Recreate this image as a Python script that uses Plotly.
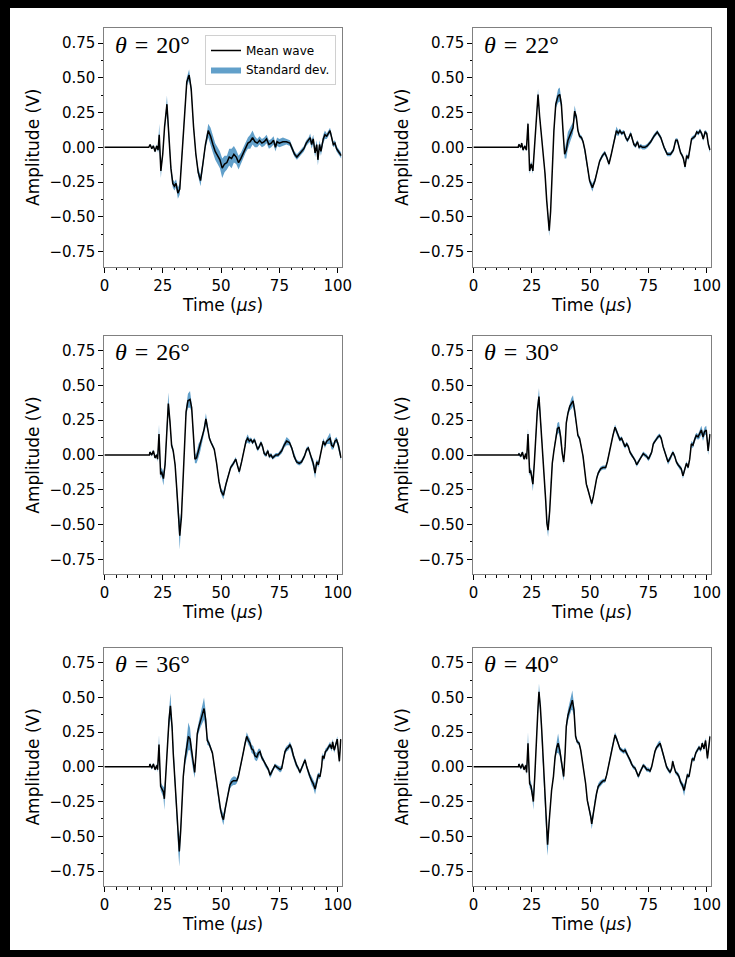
import plotly.graph_objects as go

# ---------------- data ----------------
ANGLES = [20, 22, 26, 30, 36, 40]

TIME_20 = [0, 19.0, 19.6, 20.3, 21.0, 21.7, 22.4, 23.0, 23.5, 24.2, 25.0, 25.8, 26.8, 27.6, 28.5, 29.3, 30.0, 30.7, 31.5, 32.3,
           33.3, 34.3, 35.3, 36.3, 37.2, 38.2, 39.2, 40.2, 41.2, 42.2, 43.3, 44.5, 45.5, 46.5, 47.5, 48.5, 49.5, 50.5, 51.5, 52.5,
           53.5, 54.5, 55.5, 56.5, 57.5, 58.5, 59.5, 60.5, 61.5, 62.5, 63.5, 64.5, 65.5, 66.5, 67.5, 68.5, 69.5, 70.5, 71.5, 72.5,
           73.3, 74.0, 75.0, 76.5, 78.0, 79.5, 80.5, 81.5, 82.5, 83.5, 84.5, 85.5, 86.5, 87.5, 88.2, 88.8, 89.5, 90.3, 91.0, 91.5,
           92.2, 92.8, 93.8, 94.5, 95.3, 96.0, 96.7, 97.4, 98.1, 98.8, 99.5, 100.3, 101.5]
MEAN_20 = [0, 0, 0.02, -0.01, 0.01, -0.03, 0.01, -0.02, 0.09, -0.17,
           -0.05, 0.15, 0.31, 0.12, -0.15, -0.26, -0.28, -0.26, -0.33, -0.30,
           -0.05, 0.25, 0.47, 0.52, 0.42, 0.15, -0.05, -0.18, -0.24, -0.12,
           0.02, 0.12, 0.08, 0.02, -0.03, -0.06, -0.09, -0.15, -0.12, -0.11,
           -0.07, -0.08, -0.05, -0.07, -0.11, -0.08, -0.04, 0.0, 0.03, 0.04,
           0.07, 0.04, 0.03, 0.05, 0.03, 0.04, 0.06, 0.02, 0.03, 0.05,
           0.0, 0.04, 0.03, 0.04, 0.04, 0.03, -0.01, -0.05, -0.07, -0.05,
           -0.03, -0.01, 0.03, 0.05, 0.07, 0.02, 0.06, -0.04, 0.02, -0.09,
           0.02, -0.03, 0.06, 0.09, 0.08, 0.10, 0.12, 0.07, 0.02, 0.03,
           -0.01, -0.03, -0.06]
STD_20 = [0, 0, 0.005, 0.005, 0.01, 0.01, 0.01, 0.02, 0.08, 0.05,
          0.02, 0.03, 0.06, 0.03, 0.03, 0.03, 0.03, 0.03, 0.04, 0.04,
          0.03, 0.03, 0.03, 0.04, 0.03, 0.02, 0.02, 0.03, 0.04, 0.03,
          0.03, 0.05, 0.06, 0.06, 0.06, 0.06, 0.06, 0.07, 0.06, 0.05,
          0.06, 0.07, 0.06, 0.05, 0.05, 0.04, 0.04, 0.04, 0.04, 0.05,
          0.05, 0.04, 0.03, 0.03, 0.03, 0.03, 0.03, 0.03, 0.03, 0.03,
          0.03, 0.03, 0.03, 0.03, 0.02, 0.02, 0.02, 0.02, 0.02, 0.02,
          0.02, 0.02, 0.02, 0.02, 0.03, 0.03, 0.03, 0.03, 0.03, 0.04,
          0.03, 0.03, 0.03, 0.03, 0.02, 0.02, 0.02, 0.02, 0.02, 0.02,
          0.02, 0.02, 0.02]

TIME_22 = [0, 19.2, 19.5, 20.3, 20.7, 21.3, 22.0, 22.7, 23.4, 24.1, 24.8, 25.5, 26.1, 27.0, 27.7, 28.4, 29.1, 29.8, 30.7, 31.4,
           32.1, 32.5, 33.1, 33.8, 34.5, 35.3, 36.3, 37.0, 37.7, 38.4, 39.1, 39.8, 40.5, 41.7, 42.7, 43.4, 44.1, 44.8, 45.5, 46.3,
           47.0, 47.8, 48.8, 49.8, 51.0, 52.1, 53.1, 54.1, 55.3, 56.3, 57.1, 58.1, 59.1, 60.3, 61.3, 62.1, 62.8, 63.5, 64.5, 65.3,
           66.0, 66.7, 67.4, 68.1, 68.8, 69.5, 70.3, 71.0, 71.7, 72.4, 73.5, 74.5, 76.0, 77.4, 78.8, 80.3, 81.7, 83.1, 84.5, 85.7,
           86.7, 87.4, 88.1, 88.8, 89.5, 90.0, 90.7, 91.4, 92.1, 92.8, 93.5, 94.3, 95.0, 95.7, 96.4, 97.1, 97.8, 98.5, 99.3, 100.0,
           100.7, 101.4]
MEAN_22 = [0, 0, 0.02, 0.0, 0.03, -0.02, 0.01, -0.02, 0.17, -0.17,
           -0.12, -0.17, -0.02, 0.26, 0.38, 0.22, 0.10, 0.0, -0.19, -0.38,
           -0.53, -0.60, -0.46, -0.12, 0.12, 0.31, 0.37, 0.38, 0.31, 0.12,
           -0.05, -0.02, 0.05, 0.10, 0.14, 0.26, 0.22, 0.12, 0.08, 0.07,
           0.04, -0.02, -0.14, -0.24, -0.29, -0.24, -0.17, -0.10, -0.06, -0.04,
           -0.07, -0.12, -0.05, 0.05, 0.12, 0.10, 0.12, 0.10, 0.11, 0.07,
           0.05, 0.07, 0.10, 0.06, 0.02, 0.01, 0.04, 0.0, 0.01, 0.0,
           0.0, 0.01, 0.04, 0.08, 0.11, 0.07, 0.0, -0.05, -0.05, -0.02,
           0.05, 0.05, 0.0, -0.04, -0.06, -0.08, -0.14, -0.06, -0.08, -0.02,
           0.06, 0.07, 0.08, 0.11, 0.10, 0.12, 0.10, 0.06, 0.11, 0.10,
           0.02, -0.02]
STD_22 = [0, 0, 0.01, 0.01, 0.01, 0.01, 0.01, 0.01, 0.02, 0.02,
          0.02, 0.02, 0.015, 0.03, 0.04, 0.02, 0.015, 0.015, 0.015, 0.02,
          0.03, 0.04, 0.02, 0.015, 0.015, 0.03, 0.05, 0.05, 0.03, 0.02,
          0.03, 0.06, 0.06, 0.05, 0.04, 0.04, 0.02, 0.015, 0.015, 0.015,
          0.015, 0.015, 0.015, 0.02, 0.03, 0.02, 0.015, 0.015, 0.015, 0.015,
          0.015, 0.015, 0.015, 0.02, 0.03, 0.02, 0.015, 0.015, 0.015, 0.015,
          0.015, 0.015, 0.015, 0.015, 0.015, 0.015, 0.015, 0.015, 0.015, 0.015,
          0.015, 0.015, 0.015, 0.015, 0.015, 0.015, 0.015, 0.015, 0.015, 0.015,
          0.015, 0.015, 0.015, 0.015, 0.015, 0.015, 0.02, 0.015, 0.015, 0.015,
          0.015, 0.015, 0.015, 0.015, 0.015, 0.015, 0.015, 0.015, 0.015, 0.015,
          0.015, 0.02]

TIME_26 = [0, 19.3, 19.5, 20.3, 21.0, 21.7, 22.4, 22.8, 23.4, 24.1, 24.5, 25.3, 26.0, 26.7, 27.4, 28.1, 28.8, 29.5, 30.3, 31.0,
           31.7, 32.3, 33.0, 33.6, 34.3, 35.0, 35.8, 36.7, 37.4, 38.1, 38.8, 39.5, 40.3, 41.0, 42.0, 42.8, 43.5, 44.3, 45.0, 45.7,
           46.4, 47.1, 48.1, 49.1, 50.0, 51.0, 52.1, 53.1, 54.1, 55.3, 56.3, 57.1, 57.8, 58.8, 59.8, 60.7, 61.4, 62.1, 62.8, 63.5,
           64.3, 65.0, 65.7, 66.4, 67.1, 67.8, 68.5, 69.3, 70.0, 70.7, 71.4, 72.1, 72.8, 73.5, 74.5, 76.0, 77.0, 78.1, 79.3, 80.3,
           81.3, 82.4, 83.5, 84.5, 85.7, 86.7, 87.4, 88.1, 88.8, 89.5, 90.3, 91.0, 91.7, 92.4, 93.1, 93.8, 94.5, 95.3, 96.0, 96.7,
           97.4, 98.1, 98.8, 99.5, 100.3, 101.0, 101.4]
MEAN_26 = [0, 0, 0.02, 0.0, 0.03, -0.02, 0.0, -0.03, 0.15, -0.14,
           -0.12, -0.17, -0.07, 0.17, 0.37, 0.24, 0.07, 0.03, -0.07, -0.24,
           -0.45, -0.58, -0.45, -0.21, 0.10, 0.31, 0.39, 0.40, 0.34, 0.15,
           -0.03, -0.02, 0.03, 0.06, 0.12, 0.19, 0.26, 0.19, 0.12, 0.09,
           0.07, 0.04, -0.06, -0.19, -0.26, -0.29, -0.21, -0.14, -0.09, -0.06,
           -0.03, -0.08, -0.12, -0.05, 0.04, 0.10, 0.12, 0.10, 0.11, 0.09,
           0.11, 0.07, 0.04, 0.06, 0.09, 0.06, 0.01, 0.0, 0.03, -0.01,
           0.0, -0.02, -0.01, 0.0, 0.0, 0.03, 0.07, 0.10, 0.09, 0.05,
           -0.01, -0.05, -0.06, -0.05, -0.01, 0.04, 0.05, 0.01, -0.03, -0.06,
           -0.13, -0.05, -0.07, -0.02, 0.05, 0.10, 0.07, 0.10, 0.11, 0.12,
           0.07, 0.06, 0.10, 0.11, 0.07, 0.01, -0.02]
STD_26 = [0, 0, 0.01, 0.01, 0.01, 0.01, 0.01, 0.02, 0.07, 0.03,
          0.03, 0.05, 0.03, 0.04, 0.08, 0.03, 0.02, 0.02, 0.02, 0.02,
          0.05, 0.10, 0.05, 0.02, 0.02, 0.03, 0.05, 0.06, 0.03, 0.02,
          0.03, 0.04, 0.05, 0.04, 0.03, 0.03, 0.04, 0.02, 0.015, 0.015,
          0.015, 0.015, 0.015, 0.02, 0.02, 0.03, 0.02, 0.015, 0.015, 0.015,
          0.015, 0.015, 0.02, 0.015, 0.015, 0.02, 0.03, 0.02, 0.015, 0.015,
          0.015, 0.015, 0.015, 0.015, 0.015, 0.015, 0.015, 0.015, 0.015, 0.015,
          0.015, 0.015, 0.015, 0.015, 0.015, 0.02, 0.02, 0.03, 0.02, 0.015,
          0.015, 0.015, 0.015, 0.015, 0.015, 0.015, 0.015, 0.015, 0.02, 0.03,
          0.04, 0.02, 0.02, 0.015, 0.015, 0.02, 0.02, 0.02, 0.03, 0.04,
          0.03, 0.02, 0.02, 0.02, 0.02, 0.02, 0.02]

TIME_30 = [0, 19.3, 19.5, 20.3, 21.0, 21.7, 22.4, 22.8, 23.4, 24.1, 24.5, 25.0, 25.5, 26.1, 26.7, 27.4, 28.1, 28.8, 29.5, 30.3,
           31.0, 31.5, 32.0, 32.7, 33.3, 33.8, 34.5, 35.3, 36.0, 36.7, 37.4, 38.1, 38.7, 39.3, 39.8, 40.5, 41.3, 42.0, 42.7, 43.4,
           44.1, 44.8, 45.5, 46.3, 47.0, 47.7, 48.4, 49.1, 50.0, 50.7, 51.4, 52.1, 52.8, 53.5, 54.5, 55.5, 56.7, 57.4, 58.1, 58.8,
           59.8, 60.7, 61.4, 62.1, 62.8, 63.5, 64.3, 65.0, 65.7, 66.4, 67.1, 67.8, 68.5, 69.3, 70.0, 70.7, 71.4, 72.1, 72.8, 73.5,
           74.3, 75.0, 75.7, 76.4, 77.1, 78.1, 79.1, 79.8, 80.5, 81.3, 82.0, 82.7, 83.4, 84.1, 84.8, 85.5, 86.3, 87.0, 87.7, 88.4,
           89.1, 89.8, 90.5, 91.3, 92.0, 92.7, 93.4, 94.1, 94.8, 95.5, 96.3, 97.0, 97.7, 98.4, 99.1, 99.8, 100.6, 101.4]
MEAN_30 = [0, 0, 0.01, -0.01, 0.02, -0.03, 0.01, -0.03, 0.15, -0.13,
           -0.11, -0.16, -0.21, -0.06, 0.13, 0.32, 0.42, 0.25, 0.08, -0.09,
           -0.33, -0.49, -0.54, -0.40, -0.16, -0.06, 0.03, 0.13, 0.19, 0.20,
           0.13, 0.01, -0.05, 0.06, 0.23, 0.30, 0.35, 0.37, 0.39, 0.32,
           0.23, 0.14, 0.12, 0.06, -0.01, -0.11, -0.21, -0.25, -0.30, -0.35,
           -0.30, -0.23, -0.17, -0.13, -0.10, -0.09, -0.09, -0.05, 0.01, 0.08,
           0.14, 0.20, 0.17, 0.13, 0.11, 0.12, 0.08, 0.06, 0.08, 0.06,
           0.02, 0.0, -0.01, -0.04, -0.07, -0.05, -0.03, 0.0, 0.01, 0.0,
           -0.01, -0.03, -0.01, 0.02, 0.08, 0.11, 0.13, 0.14, 0.12, 0.06,
           0.02, -0.01, -0.05, -0.03, -0.01, 0.02, -0.01, -0.05, -0.07, -0.09,
           -0.10, -0.15, -0.11, -0.06, -0.09, -0.03, 0.08, 0.07, 0.11, 0.14,
           0.13, 0.15, 0.18, 0.13, 0.17, 0.18, 0.03, 0.15]
STD_30 = [0, 0, 0.01, 0.01, 0.01, 0.01, 0.01, 0.01, 0.04, 0.02,
          0.02, 0.03, 0.05, 0.02, 0.03, 0.04, 0.06, 0.03, 0.02, 0.02,
          0.02, 0.03, 0.05, 0.03, 0.02, 0.015, 0.015, 0.02, 0.04, 0.04,
          0.03, 0.02, 0.02, 0.02, 0.02, 0.02, 0.03, 0.04, 0.04, 0.03,
          0.02, 0.015, 0.015, 0.015, 0.015, 0.015, 0.015, 0.015, 0.015, 0.02,
          0.015, 0.015, 0.015, 0.015, 0.015, 0.015, 0.015, 0.015, 0.015, 0.015,
          0.015, 0.02, 0.015, 0.015, 0.015, 0.015, 0.015, 0.015, 0.015, 0.015,
          0.015, 0.015, 0.015, 0.015, 0.015, 0.015, 0.015, 0.015, 0.015, 0.015,
          0.015, 0.015, 0.015, 0.015, 0.015, 0.015, 0.015, 0.015, 0.015, 0.015,
          0.015, 0.015, 0.02, 0.015, 0.015, 0.015, 0.015, 0.015, 0.015, 0.015,
          0.015, 0.02, 0.02, 0.015, 0.015, 0.015, 0.02, 0.02, 0.02, 0.02,
          0.02, 0.03, 0.03, 0.03, 0.03, 0.03, 0.03, 0.03]

TIME_36 = [0, 19.3, 19.5, 20.3, 21.0, 21.7, 22.4, 22.8, 23.4, 24.1, 24.7, 25.3, 25.7, 26.3, 27.0, 27.7, 28.3, 29.0, 29.5, 30.3,
           31.0, 31.7, 32.1, 32.7, 33.3, 33.8, 34.5, 35.3, 36.0, 36.7, 37.4, 38.1, 38.7, 39.3, 39.8, 40.5, 41.3, 42.0, 42.7, 43.4,
           44.1, 44.8, 45.5, 46.3, 47.0, 47.7, 48.4, 49.1, 49.8, 50.5, 51.0, 51.7, 52.4, 53.1, 53.8, 54.5, 55.3, 56.0, 56.7, 57.4,
           58.1, 58.8, 59.5, 60.3, 61.0, 61.7, 62.4, 63.1, 63.8, 64.5, 65.3, 66.0, 66.7, 67.4, 68.1, 68.8, 69.5, 70.3, 71.0, 71.7,
           72.4, 73.1, 73.8, 74.5, 75.3, 76.0, 76.7, 77.4, 78.1, 78.8, 79.5, 80.3, 81.0, 81.7, 82.4, 83.1, 83.8, 84.5, 85.3, 86.0,
           86.7, 87.4, 88.1, 88.8, 89.5, 90.3, 91.0, 91.7, 92.4, 93.1, 93.5, 94.1, 94.7, 95.3, 96.0, 96.7, 97.4, 97.8, 98.5, 99.3,
           99.8, 100.3, 100.7, 101.3]
MEAN_36 = [0, 0, 0.02, -0.01, 0.02, -0.02, 0.01, -0.02, 0.16, -0.14,
           -0.16, -0.18, -0.23, -0.07, 0.19, 0.34, 0.44, 0.29, 0.10, -0.12,
           -0.36, -0.55, -0.61, -0.46, -0.24, -0.07, 0.05, 0.14, 0.22, 0.20,
           0.10, 0.0, -0.04, 0.10, 0.24, 0.29, 0.34, 0.38, 0.42, 0.34,
           0.19, 0.17, 0.14, 0.10, 0.02, -0.07, -0.17, -0.26, -0.31, -0.36,
           -0.38, -0.31, -0.24, -0.18, -0.13, -0.11, -0.10, -0.10, -0.10, -0.07,
           -0.02, 0.04, 0.10, 0.17, 0.22, 0.19, 0.17, 0.13, 0.12, 0.08,
           0.07, 0.10, 0.11, 0.07, 0.05, 0.02, 0.0, -0.02, -0.06, -0.04,
           -0.01, 0.01, 0.0, -0.01, -0.02, -0.01, 0.06, 0.11, 0.13, 0.14,
           0.16, 0.13, 0.08, 0.04, 0.01, -0.01, -0.04, -0.01, 0.02, 0.05,
           0.0, -0.04, -0.07, -0.10, -0.12, -0.16, -0.10, -0.06, -0.07, 0.0,
           0.08, 0.06, 0.11, 0.12, 0.14, 0.16, 0.13, 0.18, 0.12, 0.17,
           0.20, 0.10, 0.04, 0.20]
STD_36 = [0, 0, 0.01, 0.01, 0.01, 0.01, 0.01, 0.02, 0.07, 0.03,
          0.03, 0.04, 0.08, 0.03, 0.04, 0.06, 0.09, 0.04, 0.03, 0.03,
          0.04, 0.07, 0.11, 0.06, 0.03, 0.03, 0.04, 0.07, 0.10, 0.08,
          0.05, 0.03, 0.04, 0.03, 0.03, 0.04, 0.05, 0.06, 0.08, 0.06,
          0.03, 0.02, 0.02, 0.015, 0.015, 0.015, 0.015, 0.015, 0.02, 0.03,
          0.04, 0.03, 0.02, 0.02, 0.03, 0.03, 0.03, 0.03, 0.02, 0.02,
          0.015, 0.015, 0.02, 0.02, 0.03, 0.03, 0.03, 0.03, 0.03, 0.03,
          0.03, 0.03, 0.02, 0.02, 0.015, 0.015, 0.015, 0.015, 0.02, 0.02,
          0.015, 0.015, 0.015, 0.02, 0.02, 0.02, 0.02, 0.02, 0.02, 0.02,
          0.02, 0.02, 0.02, 0.02, 0.02, 0.015, 0.015, 0.015, 0.015, 0.015,
          0.015, 0.02, 0.02, 0.03, 0.03, 0.04, 0.03, 0.02, 0.02, 0.02,
          0.02, 0.02, 0.02, 0.02, 0.02, 0.02, 0.02, 0.02, 0.02, 0.02,
          0.02, 0.02, 0.02, 0.02]

TIME_40 = [0, 19.3, 19.5, 20.3, 21.0, 21.7, 22.4, 22.8, 23.4, 24.1, 24.7, 25.3, 25.7, 26.3, 27.0, 27.7, 28.1, 28.7, 29.3, 29.8,
           30.4, 31.0, 31.5, 31.8, 32.4, 33.0, 33.5, 34.3, 35.0, 35.7, 36.3, 37.0, 37.7, 38.4, 38.7, 39.3, 39.8, 40.5, 41.3, 42.0,
           42.4, 43.1, 43.8, 44.5, 45.3, 46.0, 46.7, 47.4, 48.1, 48.8, 49.5, 50.3, 50.7, 51.4, 52.1, 52.8, 53.5, 54.3, 55.0, 55.7,
           56.4, 57.1, 57.8, 58.5, 59.3, 60.0, 60.7, 61.4, 62.1, 62.8, 63.5, 64.3, 65.0, 65.7, 66.4, 67.1, 67.8, 68.5, 69.3, 70.0,
           70.7, 71.4, 72.1, 72.8, 73.5, 74.3, 75.0, 75.7, 76.4, 77.1, 77.8, 78.5, 79.3, 80.0, 80.7, 81.4, 82.1, 82.8, 83.5, 84.3,
           85.0, 85.4, 86.0, 86.7, 87.4, 88.1, 88.8, 89.5, 90.3, 91.0, 91.7, 92.4, 93.1, 93.8, 94.5, 95.3, 96.0, 96.7, 97.4, 98.1,
           98.8, 99.5, 100.3, 100.9, 101.4]
MEAN_40 = [0, 0, 0.02, -0.01, 0.02, -0.02, 0.01, -0.04, 0.17, -0.12,
           -0.14, -0.19, -0.25, -0.07, 0.22, 0.43, 0.54, 0.43, 0.26, 0.10,
           -0.12, -0.36, -0.53, -0.56, -0.41, -0.26, -0.17, -0.07, 0.07, 0.14,
           0.17, 0.12, 0.05, -0.05, -0.07, 0.10, 0.29, 0.37, 0.42, 0.47,
           0.48, 0.41, 0.22, 0.18, 0.17, 0.12, 0.05, -0.02, -0.12, -0.24,
           -0.29, -0.36, -0.41, -0.34, -0.24, -0.19, -0.14, -0.12, -0.11, -0.10,
           -0.10, -0.06, 0.0, 0.07, 0.13, 0.18, 0.23, 0.20, 0.17, 0.13,
           0.12, 0.11, 0.12, 0.10, 0.07, 0.05, 0.02, 0.0, -0.01, -0.04,
           -0.07, -0.04, -0.01, 0.01, 0.0, -0.02, -0.02, -0.03, 0.0, 0.07,
           0.11, 0.14, 0.16, 0.17, 0.13, 0.08, 0.04, 0.0, -0.02, -0.04,
           -0.01, 0.04, 0.0, -0.04, -0.05, -0.07, -0.11, -0.13, -0.17, -0.11,
           -0.06, -0.07, 0.0, 0.06, 0.05, 0.10, 0.12, 0.14, 0.12, 0.17,
           0.13, 0.19, 0.06, 0.14, 0.22]
STD_40 = [0, 0, 0.01, 0.01, 0.01, 0.01, 0.01, 0.02, 0.08, 0.03,
          0.03, 0.04, 0.06, 0.03, 0.03, 0.04, 0.06, 0.04, 0.02, 0.02,
          0.02, 0.03, 0.05, 0.08, 0.04, 0.02, 0.02, 0.02, 0.02, 0.04,
          0.07, 0.04, 0.03, 0.03, 0.03, 0.02, 0.03, 0.04, 0.05, 0.06,
          0.07, 0.04, 0.02, 0.015, 0.015, 0.015, 0.015, 0.015, 0.015, 0.015,
          0.02, 0.03, 0.04, 0.03, 0.02, 0.02, 0.02, 0.02, 0.02, 0.015,
          0.015, 0.015, 0.015, 0.015, 0.015, 0.015, 0.02, 0.02, 0.015, 0.015,
          0.015, 0.015, 0.02, 0.02, 0.015, 0.015, 0.015, 0.015, 0.015, 0.015,
          0.015, 0.015, 0.015, 0.015, 0.015, 0.015, 0.015, 0.015, 0.015, 0.015,
          0.015, 0.015, 0.02, 0.02, 0.02, 0.015, 0.015, 0.015, 0.015, 0.015,
          0.015, 0.015, 0.015, 0.015, 0.015, 0.02, 0.02, 0.02, 0.04, 0.02,
          0.015, 0.015, 0.015, 0.015, 0.015, 0.015, 0.015, 0.015, 0.015, 0.015,
          0.015, 0.02, 0.02, 0.02, 0.02]

X_TICKS = [0, 25, 50, 75, 100]
Y_TICKS = [-0.75, -0.5, -0.25, 0, 0.25, 0.5, 0.75]

PANELS = [(TIME_20, MEAN_20, STD_20), (TIME_22, MEAN_22, STD_22), (TIME_26, MEAN_26, STD_26),
          (TIME_30, MEAN_30, STD_30), (TIME_36, MEAN_36, STD_36), (TIME_40, MEAN_40, STD_40)]
for t, m, s in PANELS:
    assert len(t) == len(m) == len(s), (len(t), len(m), len(s))

# ---------------- layout (pixel geometry of the reference) ----------------
W, H = 735, 957
COLS = [(104.4, 341.7), (473.4, 710.7)]
ROWS = [(28.0, 266.6), (335.7, 574.3), (647.7, 886.0)]
BAND = "rgba(31,119,180,0.7)"
SANS = "DejaVu Sans"
SP = "\u2004"  # three-per-em space, mimics the mathtext spacing around '='

fig = go.Figure()
layout = dict(
    template="none",
    width=W, height=H, margin=dict(l=0, r=0, t=0, b=0, pad=0, autoexpand=False),
    paper_bgcolor="white", plot_bgcolor="white",
    font=dict(family=SANS, size=15, color="black"),
    showlegend=True,
    legend=dict(x=205 / W, y=1 - 35 / H, xanchor="left", yanchor="top",
                bgcolor="rgba(255,255,255,0.9)", bordercolor="#d0d0d0", borderwidth=1,
                font=dict(family=SANS, size=12, color="black"),
                itemwidth=30, tracegroupgap=0, traceorder="normal"),
)
annotations = []
for i, (angle, (t, m, s)) in enumerate(zip(ANGLES, PANELS)):
    r, c = divmod(i, 2)
    n = "" if i == 0 else str(i + 1)
    xa, ya = "x" + n, "y" + n
    upper = [a + b for a, b in zip(m, s)]
    lower = [a - b for a, b in zip(m, s)]
    fig.add_trace(go.Scatter(
        x=list(t) + list(t)[::-1], y=upper + lower[::-1], fill="toself",
        fillcolor=BAND, line=dict(width=0), mode="lines", name="Standard dev.",
        showlegend=(i == 0), legendrank=2, hoverinfo="skip", xaxis=xa, yaxis=ya))
    fig.add_trace(go.Scatter(
        x=t, y=m, mode="lines", line=dict(color="black", width=1.5), name="Mean wave",
        showlegend=(i == 0), legendrank=1, xaxis=xa, yaxis=ya))

    x0, x1 = COLS[c]
    y0, y1 = ROWS[r]
    layout["xaxis" + n] = dict(
        domain=[x0 / W, x1 / W], anchor=ya, range=[0, 101.7], automargin=False,
        tickmode="array", tickvals=X_TICKS, ticks="outside", ticklen=5, tickwidth=1,
        tickcolor="black", showline=True, linecolor="#808080", linewidth=1, mirror=True,
        showgrid=False, zeroline=False, tickfont=dict(size=15),
        minor=dict(ticks="outside", ticklen=2.5, tickcolor="black", dtick=5, tick0=0, showgrid=False),
        title=dict(text="Time (<i>μs</i>)", font=dict(size=17), standoff=1),
    )
    layout["yaxis" + n] = dict(
        domain=[1 - y1 / H, 1 - y0 / H], anchor=xa, range=[-0.858, 0.858], automargin=False,
        tickmode="array", tickvals=Y_TICKS, tickformat=".2f", ticks="outside", ticklen=5,
        tickwidth=1, tickcolor="black", showline=True, linecolor="#808080", linewidth=1,
        mirror=True, showgrid=False, zeroline=False, tickfont=dict(size=15),
        minor=dict(ticks="outside", ticklen=2.5, tickcolor="black", dtick=0.125, tick0=0, showgrid=False),
        title=dict(text="Amplitude (V)", font=dict(size=17), standoff=5),
    )
    annotations.append(dict(
        text=f"<i>θ</i>{SP}={SP}{angle}°", xref=f"{xa} domain", yref=f"{ya} domain",
        x=0.035, y=0.93, xanchor="left", yanchor="middle", showarrow=False,
        font=dict(family="Liberation Serif", size=24, color="black")))

layout["annotations"] = annotations
# black outer frame of the figure
frame = [(0, 10, 0, H), (W - 8, W, 0, H), (0, W, 0, 8), (0, W, H - 7, H)]
layout["shapes"] = [dict(type="rect", xref="paper", yref="paper", layer="above",
                         x0=a / W, x1=b / W, y0=1 - d / H, y1=1 - u / H,
                         fillcolor="black", line=dict(width=0)) for a, b, u, d in frame]
fig.update_layout(**layout)
# remove the browser's default 8px body margin so the figure fills the window
fig.write_html("out.html", config={"displayModeBar": False},
               post_script="document.body.style.margin='0';document.body.style.overflow='hidden';")
